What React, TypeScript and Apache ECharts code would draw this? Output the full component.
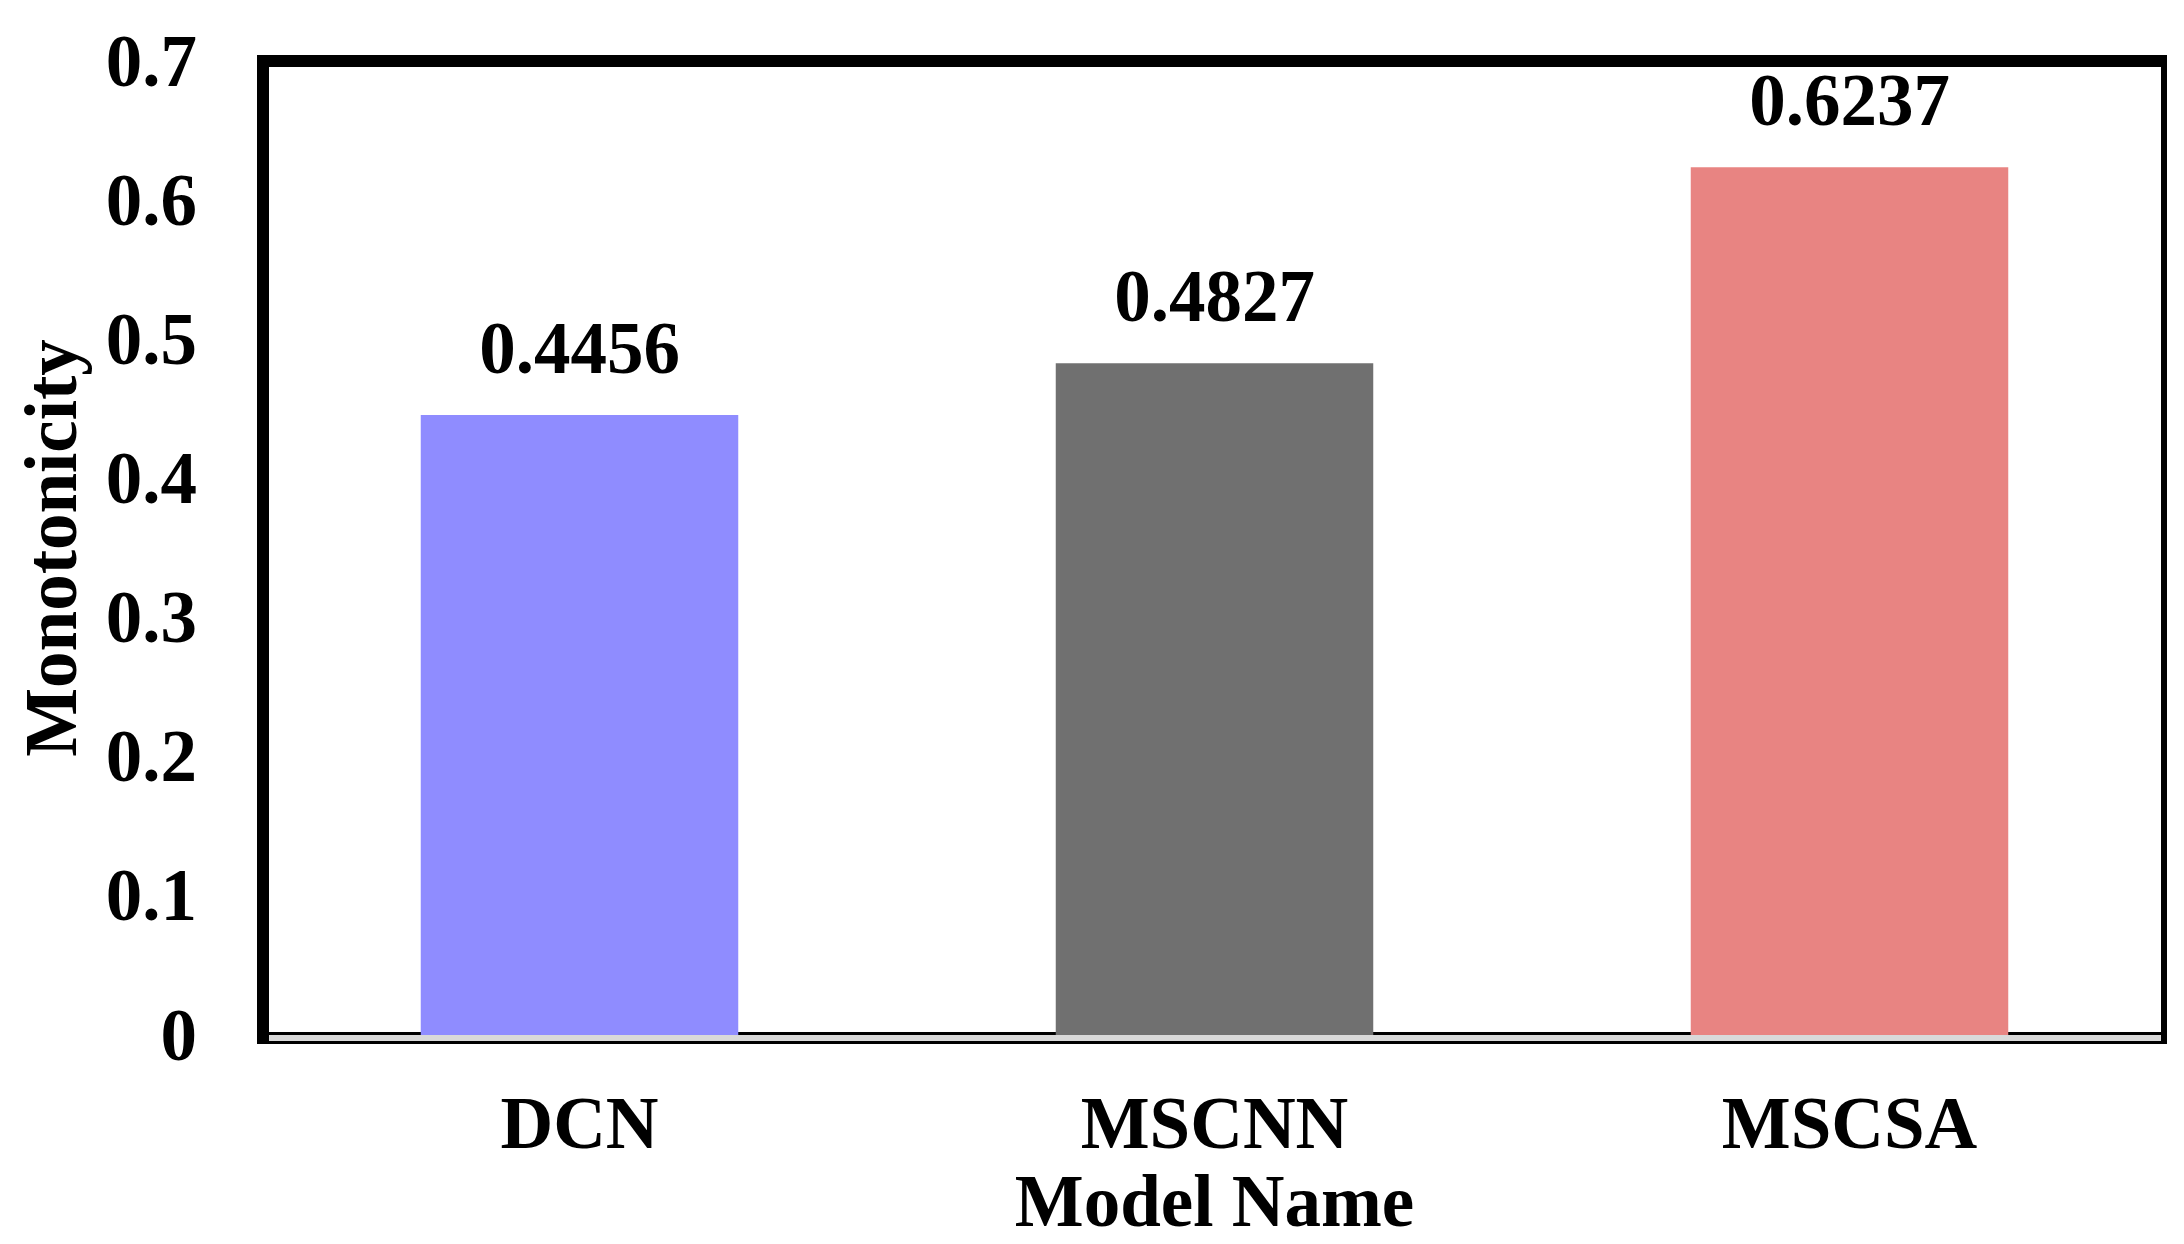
import React, { useEffect, useRef } from "react";
import * as echarts from "echarts";

const categories = ["DCN", "MSCNN", "MSCSA"];
const values = [0.4456, 0.4827, 0.6237];
const barColors = ["#8f8cff", "#707070", "#e88482"];
const yTicks = [0, 0.1, 0.2, 0.3, 0.4, 0.5, 0.6, 0.7];

const FONT = "'Liberation Serif', 'Times New Roman', serif";

export default function App() {
  const ref = useRef<HTMLDivElement>(null);
  useEffect(() => {
    if (!ref.current) return;
    const chart = echarts.init(ref.current, undefined, { renderer: "svg" });
    const gridLeft = 262;
    const gridRight = 17;
    const gridTop = 61;
    const gridBottom = 209;
    chart.setOption({
      animation: false,
      backgroundColor: "#ffffff",
      textStyle: { fontFamily: FONT },
      grid: { left: gridLeft, right: gridRight, top: gridTop, bottom: gridBottom, containLabel: false },
      xAxis: {
        type: "category",
        data: categories,
        axisLine: { show: false },
        axisTick: { show: false },
        axisLabel: {
          margin: 52,
          fontSize: 73,
          fontWeight: "bold",
          fontFamily: FONT,
          color: "#000",
        },
        name: "Model Name",
        nameLocation: "middle",
        nameGap: 118,
        nameTextStyle: { fontSize: 73, fontWeight: "bold", fontFamily: FONT, color: "#000" },
      },
      yAxis: {
        type: "value",
        min: yTicks[0],
        max: yTicks[yTicks.length - 1],
        interval: 0.1,
        axisLine: { show: false },
        axisTick: { show: false },
        splitLine: { show: false },
        axisLabel: {
          margin: 65,
          fontSize: 73,
          fontWeight: "bold",
          fontFamily: FONT,
          color: "#000",
          formatter: (v: number) => (v === 0 ? "0" : String(Math.round(v * 10) / 10)),
        },
        name: "Monotonicity",
        nameLocation: "middle",
        nameGap: 174,
        nameTextStyle: { fontSize: 73, fontWeight: "bold", fontFamily: FONT, color: "#000" },
      },
      series: [
        {
          type: "bar",
          barWidth: "50%",
          z: 3,
          data: values.map((v, i) => ({ value: v, itemStyle: { color: barColors[i] } })),
          label: {
            show: true,
            position: "top",
            distance: 30,
            fontSize: 73,
            fontWeight: "bold",
            fontFamily: FONT,
            color: "#000",
            formatter: (p: any) => p.value.toFixed(4),
          },
        },
      ],
      graphic: [
        { type: "rect", z: 0, shape: { x: 257, y: 1032, width: 1910, height: 3 }, style: { fill: "#000" } },
        { type: "rect", z: 10, shape: { x: 262, y: 1035, width: 1905, height: 6 }, style: { fill: "#d9d9d9" } },
        { type: "rect", z: 10, shape: { x: 257, y: 1041, width: 1910, height: 3 }, style: { fill: "#000" } },
        { type: "rect", z: 10, shape: { x: 257, y: 55, width: 1910, height: 12 }, style: { fill: "#000" } },
        { type: "rect", z: 10, shape: { x: 257, y: 55, width: 12, height: 989 }, style: { fill: "#000" } },
        { type: "rect", z: 10, shape: { x: 2161, y: 55, width: 6, height: 989 }, style: { fill: "#000" } },
      ],
    });
    return () => chart.dispose();
  }, []);
  return (
    <div
      ref={ref}
      style={{ position: "fixed", left: 0, top: 0, width: 2184, height: 1244, background: "#fff" }}
    />
  );
}
